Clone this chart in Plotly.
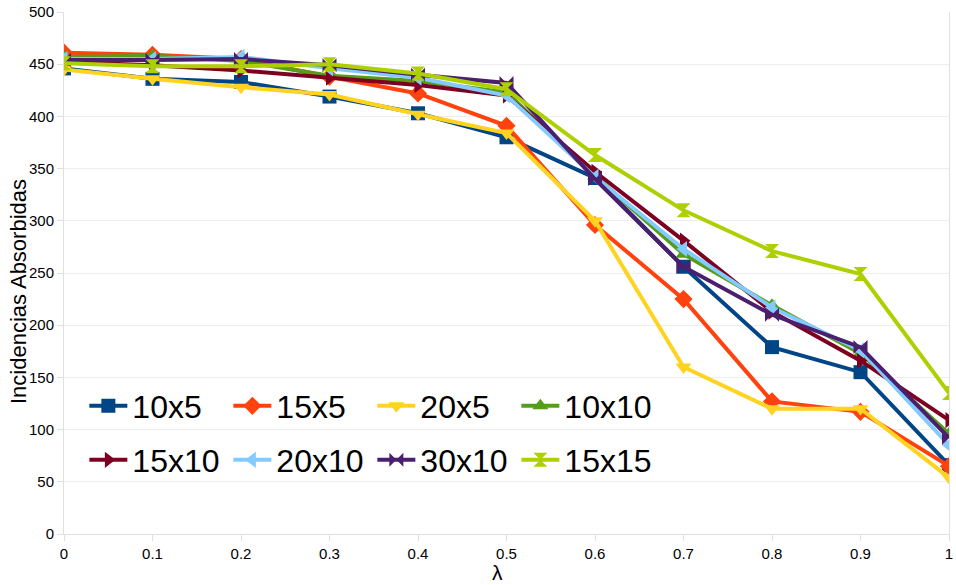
import plotly.graph_objects as go

# lambda values on the x axis
lam = [0, 0.1, 0.2, 0.3, 0.4, 0.5, 0.6, 0.7, 0.8, 0.9, 1]

# absorbed incidences per instance size
s_10x5 = [446, 436, 433, 419, 403, 380, 341, 256, 179, 155, 66]
s_15x5 = [461, 459, 455, 438, 422, 391, 296, 225, 127, 117, 65]
s_20x5 = [445, 436, 428, 421, 402, 384, 300, 160, 120, 120, 54]
s_10x10 = [457, 458, 453, 439, 434, 423, 343, 268, 219, 173, 96]
s_15x10 = [452, 449, 444, 437, 430, 420, 347, 281, 213, 166, 109]
s_20x10 = [455, 455, 457, 446, 437, 420, 342, 273, 217, 176, 85]
s_30x10 = [454, 454, 455, 449, 440, 432, 340, 256, 210, 179, 92]
s_15x15 = [451, 448, 448, 450, 441, 426, 363, 310, 271, 249, 135]

names = ["10x5", "15x5", "20x5", "10x10", "15x10", "20x10", "30x10", "15x15"]
series = [s_10x5, s_15x5, s_20x5, s_10x10, s_15x10, s_20x10, s_30x10, s_15x15]
colors = ["#004586", "#ff420e", "#ffd320", "#579d1c",
          "#7e0021", "#83caff", "#4b1f6f", "#aecf00"]
symbols = ["square", "diamond", "triangle-down", "triangle-up",
           "triangle-right", "triangle-left", "bowtie", "hourglass"]

fig = go.Figure()
for i, (n, ys, c, s) in enumerate(zip(names, series, colors, symbols)):
    fig.add_trace(go.Scatter(
        x=lam, y=ys, name=n, mode="lines+markers",
        line=dict(color=c, width=4),
        marker=dict(symbol=s, size=14, color=c),
        legend="legend" if i < 4 else "legend2",
    ))

legend_common = dict(
    orientation="h", xanchor="left", yanchor="middle",
    font=dict(family="Liberation Sans", size=32, color="#000000"),
    bgcolor="rgba(0,0,0,0)", entrywidth=91, entrywidthmode="pixels",
    itemwidth=38, tracegroupgap=0,
)

fig.update_layout(
    width=956, height=585,
    margin=dict(l=64, r=7, t=12, b=51),
    paper_bgcolor="white", plot_bgcolor="white",
    font=dict(family="Liberation Sans", size=15, color="#000000"),
    showlegend=True,
    legend=dict(x=0.023, y=(534 - 406) / 522, yref="paper", **legend_common),
    legend2=dict(x=0.023, y=(534 - 460) / 522, yref="paper", **legend_common),
    xaxis=dict(
        range=[0, 1], dtick=0.1, tick0=0, automargin=False,
        showgrid=False, zeroline=False,
        showline=True, linecolor="#e0e0e0", linewidth=1,
        ticks="outside", ticklen=6, tickcolor="#e0e0e0",
        tickfont=dict(size=15),
    ),
    yaxis=dict(
        range=[0, 500], dtick=50, tick0=0, automargin=False,
        showgrid=True, gridcolor="#eeeeee", gridwidth=1,
        zeroline=False,
        showline=True, linecolor="#e0e0e0", linewidth=1, mirror=True,
        ticks="outside", ticklen=6, tickcolor="#e0e0e0",
        tickfont=dict(size=15),
    ),
    annotations=[
        dict(text="λ", xref="paper", yref="paper",
             x=(497 - 64) / 885, y=-(572 - 534) / 522,
             xanchor="center", yanchor="middle", showarrow=False,
             font=dict(size=21, color="#000000")),
        dict(text="Incidencias Absorbidas", xref="paper", yref="paper",
             x=-(64 - 18) / 885, y=(534 - 292) / 522, textangle=-90,
             xanchor="center", yanchor="middle", showarrow=False,
             font=dict(size=22, color="#000000")),
    ],
)

fig.write_html("out.html")
